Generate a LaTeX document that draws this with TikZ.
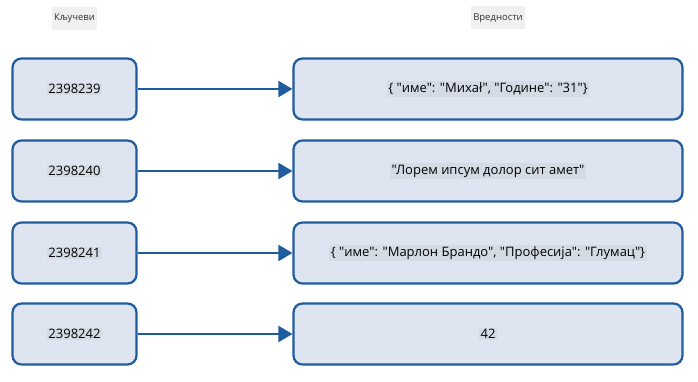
\documentclass[tikz,border=0pt]{standalone}
\usepackage{fontspec}
\setmainfont[Ligatures=TeXOff]{Open Sans}
\usetikzlibrary{arrows.meta}
\definecolor{boxfill}{HTML}{DEE5F0}
\definecolor{boxline}{HTML}{1F5C9E}
\definecolor{hl}{HTML}{D5DBE5}
\definecolor{hdr}{HTML}{F0F0F0}
\tikzset{
  keybox/.style={draw=boxline, fill=boxfill, line width=2.2pt, rounded corners=9pt, minimum width=124pt, minimum height=61pt},
  valbox/.style={draw=boxline, fill=boxfill, line width=2.2pt, rounded corners=9pt, minimum width=389pt, minimum height=61pt},
  hltext/.style={fill=hl, inner sep=1.5pt, font=\fontsize{13}{15}\selectfont},
  hdrtext/.style={fill=hdr, inner xsep=2pt, minimum height=23pt, font=\fontsize{9.5}{11}\selectfont, text=black!80},
  link/.style={draw=boxline, line width=2.2pt, -{Triangle[length=14pt,width=16pt]}}
}
\begin{document}
\begin{tikzpicture}[x=1pt,y=-1pt]
\useasboundingbox (0,0) rectangle (698,382);
\node[hdrtext] (hk) at (74.5,18.5) {Кључеви};
\node[hdrtext] (hv) at (498,18) {Вредности};
\foreach \i/\y/\k/\v in {1/89/2398239/{\{ "име": "Михаł", "Године": "31"\}},
                         2/171/2398240/{"Лорем ипсум долор сит амет"},
                         3/253/2398241/{\{ "име": "Марлон Брандо", "Професија": "Глумац"\}},
                         4/334/2398242/{42}} {
  \node[keybox] (k\i) at (74.5,\y) {};
  \node[hltext] (kt\i) at (k\i) {\k};
  \node[valbox] (v\i) at (488,\y) {};
  \node[hltext] (vt\i) at (v\i) {\v};
  \draw[link] (k\i.east) -- (v\i.west);
}
\end{tikzpicture}
\end{document}
